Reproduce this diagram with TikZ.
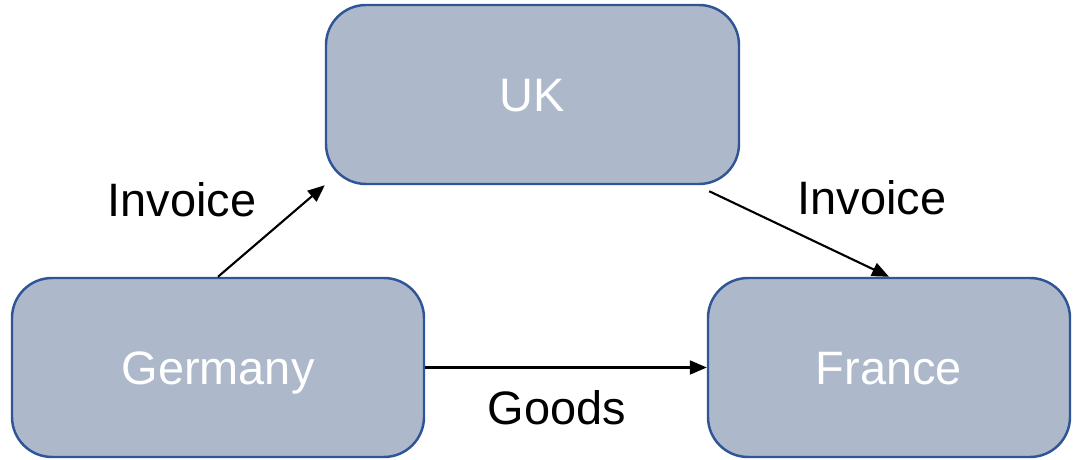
\documentclass[tikz,border=0pt]{standalone}
\usepackage{fontspec}
\setmainfont{Liberation Sans}
\usepackage{xcolor}
\usepackage{tikz}
\usetikzlibrary{arrows.meta,positioning,calc}

\definecolor{boxfill}{HTML}{ADB9CA}
\definecolor{boxline}{HTML}{2F5597}

\begin{document}
\begin{tikzpicture}[
    country/.style={rectangle, rounded corners=0.8cm, draw=boxline, line width=1.4pt, fill=boxfill, minimum height=3.58cm, text height=0.7cm, text depth=0pt, align=center, text=white, font=\fontsize{26.7}{32}\selectfont},
    flowlabel/.style={font=\fontsize{26.7}{32}\selectfont, text=black},
    arrow/.style={-{Triangle[length=0.34cm,width=0.28cm]}, line width=1.2pt},
]
    \useasboundingbox (0,0) rectangle (21.48,9.18);

    \node[country, minimum width=8.26cm] (uk) at (10.65,7.29) {UK};
    \node[country, minimum width=8.24cm] (germany) at (4.36,1.83) {Germany};
    \node[country, minimum width=7.24cm] (france) at (17.78,1.83) {France};

    \draw[arrow] (germany.north) -- (uk.south west);
    \draw[arrow] ([xshift=-0.62cm,yshift=-0.12cm]uk.south east) -- (france.north);
    \draw[arrow] (germany.east) -- (france.west);

    \node[flowlabel] (invoiceA) at (3.64,5.18) {Invoice};
    \node[flowlabel] (invoiceB) at (17.44,5.22) {Invoice};
    \node[flowlabel] (goods) at (11.14,1.02) {Goods};
\end{tikzpicture}
\end{document}
